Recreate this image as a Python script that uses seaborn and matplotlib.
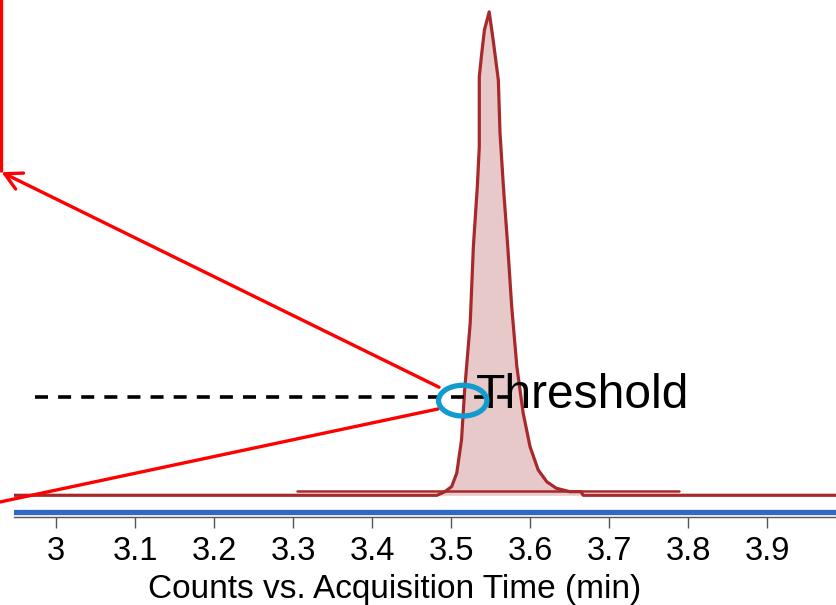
import numpy as np
import pandas as pd
import matplotlib
matplotlib.use("Agg")
import matplotlib.pyplot as plt
import seaborn as sns
from matplotlib.patches import Ellipse, FancyArrowPatch

# ---------------- data ----------------
peak_time = [2.947, 3.482, 3.492, 3.5006, 3.507, 3.513, 3.517, 3.524, 3.528, 3.533,
             3.5355, 3.5355, 3.5386, 3.542, 3.548, 3.553, 3.5596, 3.5617, 3.566, 3.5715,
             3.5765, 3.583, 3.591, 3.5997, 3.610, 3.621, 3.633, 3.650, 3.664, 3.667, 3.988]
peak_counts = [4.2, 4.2, 4.9, 5.9, 8.5, 14.9, 24.6, 37.5, 52.3, 63.9,
               71.6, 85.2, 89.7, 94.2, 97.7, 92.3, 84.5, 74.3, 63.9, 52.3,
               40.7, 29.1, 20.1, 13.6, 9.1, 6.8, 5.55, 4.9, 4.9, 4.2, 4.2]
second_time = [3.3045, 3.7886]
second_counts = [5.1, 5.1]
blank_time = [2.947, 3.988]
blank_counts = [1.0, 1.0]

threshold_level = 23.15
threshold_span = [2.9734, 3.577]
threshold_label = "Threshold"
xticks = [3.0, 3.1, 3.2, 3.3, 3.4, 3.5, 3.6, 3.7, 3.8, 3.9]
xtick_labels = ["3", "3.1", "3.2", "3.3", "3.4", "3.5", "3.6", "3.7", "3.8", "3.9"]
xlabel = "Counts vs. Acquisition Time (min)"

# annotation geometry (data coordinates)
arrow_tip = (2.931, 66.7)
arrow_top = (2.931, 103.0)
arrow_from = (3.4846, 25.1)
lower_line = [(2.9228, 2.7), (3.4833, 20.9)]
circle_center = (3.5145, 22.5)
circle_size = (0.0611, 5.94)
label_pos = (3.5314, 21.0)

# ---------------- style ----------------
sns.set_theme(style="white")
plt.rcParams["font.family"] = ["Liberation Sans", "DejaVu Sans"]

fig = plt.figure(figsize=(8.37, 6.05), dpi=100)
ax = fig.add_axes([14 / 837, 88 / 605, 823 / 837, 517 / 605])

maroon = "#a8292b"
pink = "#e7c9ca"

df_peak = pd.DataFrame({"time": peak_time, "counts": peak_counts})
df_second = pd.DataFrame({"time": second_time, "counts": second_counts})
df_blank = pd.DataFrame({"time": blank_time, "counts": blank_counts})

pk = df_peak.iloc[1:30]
ax.fill_between(pk["time"], 4.2, pk["counts"], color=pink, lw=0, zorder=1)

sns.lineplot(data=df_blank, x="time", y="counts", sort=False, estimator=None,
             color="#3068c8", lw=3.8, ax=ax, zorder=2)
sns.lineplot(data=df_second, x="time", y="counts", sort=False, estimator=None,
             color=maroon, lw=1.8, ax=ax, zorder=2)
sns.lineplot(data=df_peak, x="time", y="counts", sort=False, estimator=None,
             color=maroon, lw=2.3, ax=ax, zorder=3)

ax.plot(threshold_span, [threshold_level, threshold_level], color="black",
        lw=2.6, dashes=(3.6, 2.8), zorder=4)
ax.text(label_pos[0], label_pos[1], threshold_label, fontsize=34.5, ha="left",
        va="baseline", color="black", zorder=5)

# red annotation lines
ax.plot([arrow_top[0], arrow_tip[0]], [arrow_top[1], arrow_tip[1]], color="red",
        lw=2.4, clip_on=False, zorder=6, solid_capstyle="butt")
arr = FancyArrowPatch(arrow_from, arrow_tip, arrowstyle="->,head_length=0.6,head_width=0.32",
                      mutation_scale=20, color="red", lw=2.4, clip_on=False, zorder=6,
                      shrinkA=0, shrinkB=0)
ax.add_patch(arr)
ax.plot([p[0] for p in lower_line], [p[1] for p in lower_line], color="red", lw=2.4,
        clip_on=False, zorder=6)

ax.add_patch(Ellipse(circle_center, circle_size[0], circle_size[1], fill=False,
                     edgecolor="#119bcf", lw=3.8, zorder=7))

# axes
ax.set_xlim(2.9469, 3.988)
ax.set_ylim(0, 100)
ax.set_yticks([])
ax.set_ylabel("")
for s in ["left", "right", "top"]:
    ax.spines[s].set_visible(False)
ax.spines["bottom"].set_color("#555555")
ax.spines["bottom"].set_linewidth(1.0)
ax.set_xticks(xticks)
ax.set_xticklabels(xtick_labels)
ax.tick_params(axis="x", direction="out", length=8, width=1.0, color="#555555",
               labelsize=23.5, labelcolor="black", pad=6, bottom=True)
ax.set_xlabel(xlabel, fontsize=24, color="black", va="baseline")
ax.xaxis.set_label_coords(0.463, -0.156)
ax.patch.set_alpha(0)

fig.savefig("out.png", dpi=100)
